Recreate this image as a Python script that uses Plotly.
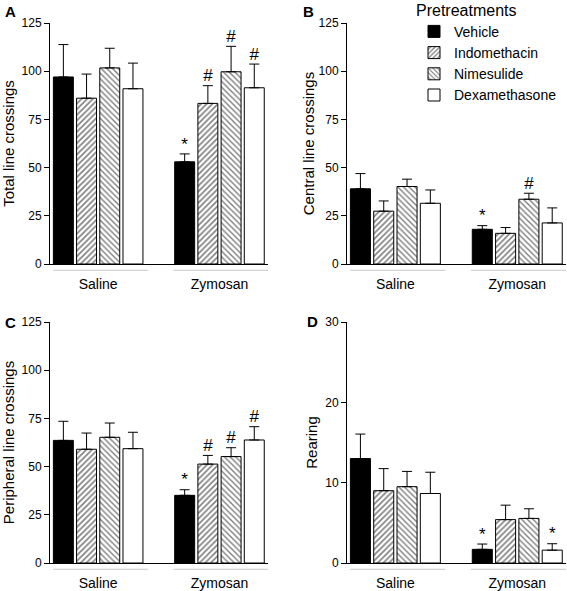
import plotly.graph_objects as go

W, H = 567, 591

groups = ["Saline", "Zymosan"]
treatments = ["Vehicle", "Indomethacin", "Nimesulide", "Dexamethasone"]

# Panel A: total line crossings
total_mean = {"Vehicle": [97, 53], "Indomethacin": [86, 83.3], "Nimesulide": [101.7, 99.7], "Dexamethasone": [90.9, 91.4]}
total_sem = {"Vehicle": [16.8, 4.1], "Indomethacin": [12.5, 9.2], "Nimesulide": [10.2, 13.2], "Dexamethasone": [13.3, 12.3]}
total_sig = {"Vehicle": ["", "*"], "Indomethacin": ["", "#"], "Nimesulide": ["", "#"], "Dexamethasone": ["", "#"]}

# Panel B: central line crossings
central_mean = {"Vehicle": [39, 18], "Indomethacin": [27.4, 15.9], "Nimesulide": [40.2, 33.6], "Dexamethasone": [31.5, 21.3]}
central_sem = {"Vehicle": [7.9, 1.9], "Indomethacin": [5.3, 3.0], "Nimesulide": [3.8, 3.1], "Dexamethasone": [6.9, 7.8]}
central_sig = {"Vehicle": ["", "*"], "Indomethacin": ["", ""], "Nimesulide": ["", "#"], "Dexamethasone": ["", ""]}

# Panel C: peripheral line crossings
periph_mean = {"Vehicle": [63.6, 35.1], "Indomethacin": [59, 51.3], "Nimesulide": [65.2, 55.2], "Dexamethasone": [59.3, 63.8]}
periph_sem = {"Vehicle": [9.9, 2.9], "Indomethacin": [8.4, 4.5], "Nimesulide": [7.4, 4.6], "Dexamethasone": [8.5, 6.9]}
periph_sig = {"Vehicle": ["", "*"], "Indomethacin": ["", "#"], "Nimesulide": ["", "#"], "Dexamethasone": ["", "#"]}

# Panel D: rearing
rear_mean = {"Vehicle": [13, 1.7], "Indomethacin": [9, 5.4], "Nimesulide": [9.5, 5.55], "Dexamethasone": [8.65, 1.6]}
rear_sem = {"Vehicle": [3.05, 0.66], "Indomethacin": [2.75, 1.8], "Nimesulide": [1.9, 1.2], "Dexamethasone": [2.65, 0.8]}
rear_sig = {"Vehicle": ["", "*"], "Indomethacin": ["", ""], "Nimesulide": ["", ""], "Dexamethasone": ["", "*"]}

ticks_crossings = [0, 25, 50, 75, 100, 125]
ticks_rearing = [0, 10, 20, 30]

FONT = "Liberation Sans, Arial, Helvetica, sans-serif"

styles = {
    "Vehicle": dict(color="black"),
    "Indomethacin": dict(color="white", pattern=dict(shape="/", size=4, solidity=0.4, fgcolor="black", bgcolor="white")),
    "Nimesulide": dict(color="white", pattern=dict(shape="\\", size=4, solidity=0.35, fgcolor="black", bgcolor="white")),
    "Dexamethasone": dict(color="white"),
}

panels = [
    dict(label="A", title="Total line crossings", mean=total_mean, sem=total_sem, sig=total_sig,
         ticks=ticks_crossings, rng=[0, 125], xd=[50 / W, 268 / W], yd=[1 - 264 / H, 1 - 23 / H], standoff=5),
    dict(label="B", title="Central line crossings", mean=central_mean, sem=central_sem, sig=central_sig,
         ticks=ticks_crossings, rng=[0, 125], xd=[347 / W, 566 / W], yd=[1 - 264 / H, 1 - 23 / H], standoff=0),
    dict(label="C", title="Peripheral line crossings", mean=periph_mean, sem=periph_sem, sig=periph_sig,
         ticks=ticks_crossings, rng=[0, 125], xd=[50 / W, 268 / W], yd=[1 - 563 / H, 1 - 322 / H], standoff=6),
    dict(label="D", title="Rearing", mean=rear_mean, sem=rear_sem, sig=rear_sig,
         ticks=ticks_rearing, rng=[0, 30], xd=[347 / W, 566 / W], yd=[1 - 563 / H, 1 - 322 / H], standoff=3),
]

label_pos = {"A": (10, 12), "B": (308, 12), "C": (10, 322), "D": (312, 321)}

fig = go.Figure()
layout = dict(
    width=W, height=H, autosize=False,
    margin=dict(l=0, r=0, t=0, b=0, autoexpand=False),
    paper_bgcolor="white", plot_bgcolor="white",
    barmode="group", bargap=0.235, bargroupgap=0.14,
    scattermode="group", scattergap=0.235,
    font=dict(family=FONT, color="black", size=12),
    showlegend=True,
    legend=dict(
        x=414 / W, y=1 + 5 / H, xanchor="left", yanchor="top",
        title=dict(text="Pretreatments", font=dict(size=16)),
        font=dict(size=14), bgcolor="rgba(0,0,0,0)", tracegroupgap=0,
    ),
)
annotations = []
shapes = []

for i, p in enumerate(panels):
    n = i + 1
    xa = "x" if n == 1 else f"x{n}"
    ya = "y" if n == 1 else f"y{n}"
    for t in treatments:
        fig.add_trace(go.Bar(
            x=groups, y=p["mean"][t], name=t, xaxis=xa, yaxis=ya,
            offsetgroup=t, legendgroup=t, showlegend=(n == 1),
            marker=dict(line=dict(color="black", width=1), **styles[t]),
            error_y=dict(type="data", symmetric=False, array=p["sem"][t],
                         arrayminus=[0] * len(groups), color="black", thickness=1, width=5),
        ))
        fig.add_trace(go.Scatter(
            x=groups, y=[m + s for m, s in zip(p["mean"][t], p["sem"][t])],
            text=p["sig"][t], mode="text", textposition="top center",
            textfont=dict(size=17, color="black", family=FONT),
            xaxis=xa, yaxis=ya, offsetgroup=t, legendgroup=t, showlegend=False, hoverinfo="skip",
        ))
    layout[f"xaxis{'' if n == 1 else n}"] = dict(
        domain=p["xd"], anchor=ya, type="category", range=[-0.397, 1.40],
        showline=True, linecolor="black", linewidth=1, showgrid=False, zeroline=False,
        ticks="outside", ticklen=7, tickcolor="rgba(0,0,0,0)",
        tickfont=dict(size=14), fixedrange=True,
    )
    layout[f"yaxis{'' if n == 1 else n}"] = dict(
        domain=p["yd"], anchor=xa, range=p["rng"], tickvals=p["ticks"],
        showline=True, linecolor="black", linewidth=1, showgrid=False, zeroline=False,
        ticks="outside", ticklen=5, tickcolor="black", tickwidth=1,
        tickfont=dict(size=12),
        title=dict(text=p["title"], font=dict(size=15), standoff=p["standoff"]),
        fixedrange=True,
    )
    for x0, x1 in [(-0.37, 0.41), (0.62, 1.405)]:
        shapes.append(dict(type="line", xref=xa, yref=f"{ya} domain",
                           x0=x0, x1=x1, y0=-0.026, y1=-0.026,
                           line=dict(color="#c8c8c8", width=1)))
    lx, ly = label_pos[p["label"]]
    annotations.append(dict(text=f"<b>{p['label']}</b>", xref="paper", yref="paper",
                            x=lx / W, y=1 - ly / H, showarrow=False,
                            xanchor="center", yanchor="middle", font=dict(size=15)))

layout["annotations"] = annotations
layout["shapes"] = shapes
fig.update_layout(**layout)
fig.write_html("out.html", config={"displayModeBar": False},
               post_script="document.body.style.margin='0px';document.body.style.overflow='hidden';")
